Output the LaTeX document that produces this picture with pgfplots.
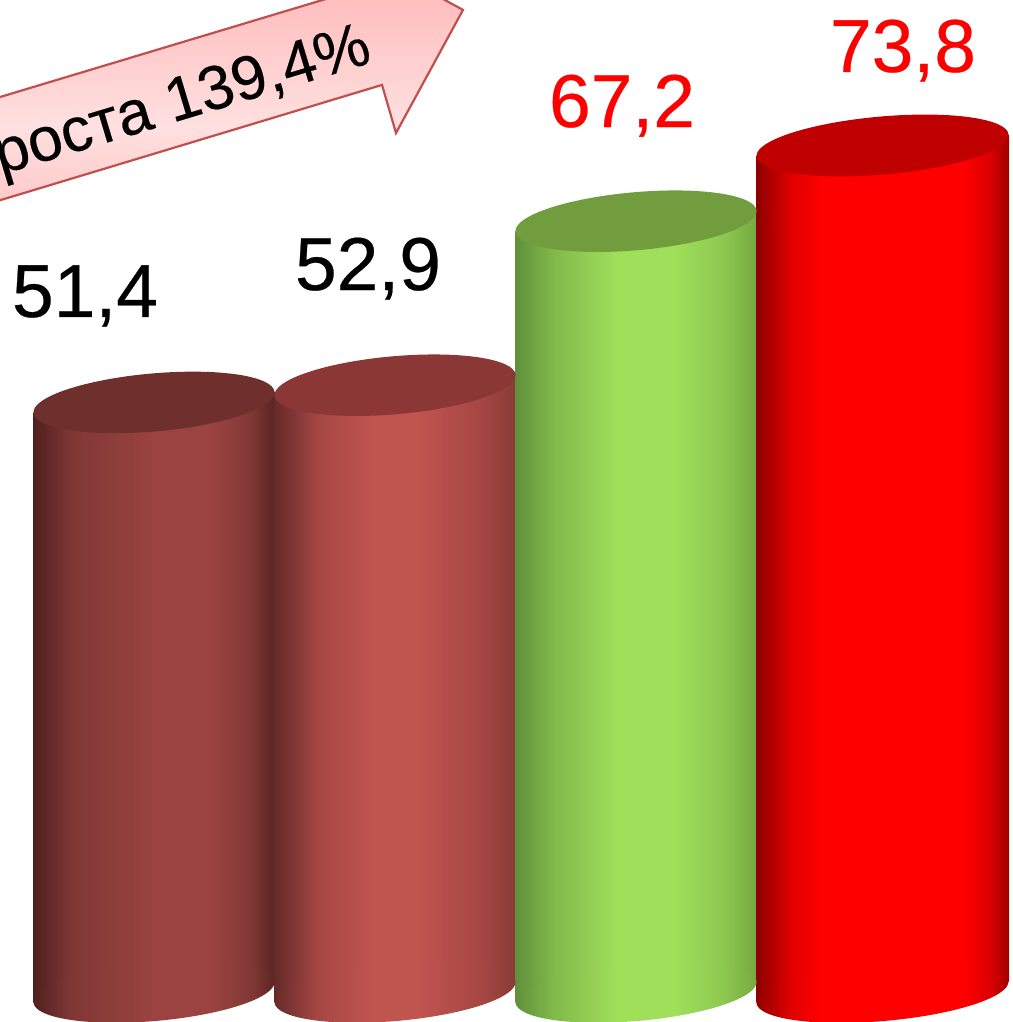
\documentclass[border=0pt]{standalone}
\usepackage{pgfplots}
\pgfplotsset{compat=1.18}
\usepackage{fontspec}
\setmainfont{Liberation Sans}
\newfontfamily\lab[FakeBold=0.35]{Liberation Sans}
\usetikzlibrary{shapes.geometric}
\definecolor{topA}{HTML}{6F2F2C}
\definecolor{topB}{HTML}{8A3736}
\definecolor{topC}{HTML}{719D3E}
\definecolor{topD}{HTML}{C00000}
\definecolor{arrowline}{HTML}{C0504D}
\definecolor{valred}{HTML}{FF0000}
\definecolor{a1}{HTML}{4F1F1E}\definecolor{a2}{HTML}{803835}\definecolor{a3}{HTML}{9A4340}\definecolor{a4}{HTML}{5A2422}
\definecolor{b1}{HTML}{642A28}\definecolor{b2}{HTML}{A54643}\definecolor{b3}{HTML}{C0544F}\definecolor{b4}{HTML}{873A37}
\definecolor{c1}{HTML}{5F8F3A}\definecolor{c2}{HTML}{82B94B}\definecolor{c3}{HTML}{9FDF5A}\definecolor{c4}{HTML}{8CC850}\definecolor{c5}{HTML}{76A93F}
\definecolor{d1}{HTML}{8C0000}\definecolor{d2}{HTML}{E10000}\definecolor{d3}{HTML}{FF0000}\definecolor{d4}{HTML}{DC0000}\definecolor{d5}{HTML}{A00000}
\definecolor{p1}{HTML}{FFC8C8}\definecolor{p2}{HTML}{FFE0E0}\definecolor{p3}{HTML}{FFBFBF}
\pgfdeclarehorizontalshading{barA}{100bp}{
 color(0bp)=(a1); color(25bp)=(a1); color(33bp)=(a2); color(50bp)=(a3); color(62bp)=(a3); color(70bp)=(a2); color(75bp)=(a4); color(100bp)=(a4)}
\pgfdeclarehorizontalshading{barB}{100bp}{
 color(0bp)=(b1); color(25bp)=(b1); color(34bp)=(b2); color(45bp)=(b3); color(55bp)=(b3); color(68bp)=(b2); color(75bp)=(b4); color(100bp)=(b4)}
\pgfdeclarehorizontalshading{barC}{100bp}{
 color(0bp)=(c1); color(25bp)=(c1); color(33bp)=(c2); color(46bp)=(c3); color(58bp)=(c3); color(68bp)=(c4); color(75bp)=(c5); color(100bp)=(c5)}
\pgfdeclarehorizontalshading{barD}{100bp}{
 color(0bp)=(d1); color(25bp)=(d1); color(32bp)=(d2); color(38bp)=(d3); color(66bp)=(d3); color(71bp)=(d4); color(75bp)=(d5); color(100bp)=(d5)}
\pgfdeclareverticalshading{arrowfill}{100bp}{
 color(0bp)=(p1); color(25bp)=(p1); color(40bp)=(p2); color(64bp)=(p3); color(100bp)=(p3)}
\pgfplotsset{
 cyl/.style n args={3}{only marks, mark=none, nodes near coords={},
  every node near coord/.append style={anchor=center, shape=ellipse, inner sep=0pt, outer sep=0pt,
   minimum width=#1pt, minimum height=58pt, rotate=5, draw=none, #2, #3}},
}
\begin{document}
\begin{tikzpicture}
\path[use as bounding box, clip] (0,0) rectangle (1012pt,1022pt);
\begin{axis}[
 at={(0,0)}, anchor=south west, scale only axis,
 hide axis, x=1pt, y=11.47pt,
 xmin=0, xmax=1012, ymin=-2.616, ymax=86.49,
 clip=true,
]
% bar 1: 51.4
\addplot[cyl={242}{shading=barA}{shading angle=0}] coordinates {(154,0)};
\addplot[draw=none, shading=barA, shading angle=0] coordinates {(33,-0.9)(33,50.5)(275,52.3)(275,0.9)} --cycle;
\addplot[cyl={242}{fill=topA}{}] coordinates {(154,51.4)};
% bar 2: 52.9
\addplot[cyl={242}{shading=barB}{shading angle=0}] coordinates {(395,0)};
\addplot[draw=none, shading=barB, shading angle=0] coordinates {(274,-0.9)(274,52.0)(516,53.8)(516,0.9)} --cycle;
\addplot[cyl={242}{fill=topB}{}] coordinates {(395,52.9)};
% bar 3: 67.2
\addplot[cyl={242}{shading=barC}{shading angle=0}] coordinates {(636,0)};
\addplot[draw=none, shading=barC, shading angle=0] coordinates {(515,-0.9)(515,66.3)(757,68.1)(757,0.9)} --cycle;
\addplot[cyl={242}{fill=topC}{}] coordinates {(636,67.2)};
% bar 4: 73.8
\addplot[cyl={253}{shading=barD}{shading angle=0}] coordinates {(882.5,0)};
\addplot[draw=none, shading=barD, shading angle=0] coordinates {(756,-0.9)(756,72.9)(1009,74.7)(1009,0.9)} --cycle;
\addplot[cyl={253}{fill=topD}{}] coordinates {(882.5,73.8)};
% arrow
\addplot[draw=arrowline, line width=2.2pt, shading=arrowfill, line join=miter] coordinates {
 (-20,77.5)(354,87.31)(340,91.49)(463,85.62)(396,74.89)(382,79.08)(-20,68.5)} --cycle;
\node[anchor=base east, rotate=16.8, font=\lab\fontsize{62}{62}\selectfont, inner sep=0pt] at (axis cs:374,81.08) {роста 139,4\%};
% labels
\node[anchor=base, font=\lab\fontsize{75}{75}\selectfont, inner sep=0pt] at (axis cs:85,58.85) {51,4};
\node[anchor=base, font=\lab\fontsize{75}{75}\selectfont, inner sep=0pt] at (axis cs:368,61.2) {52,9};
\node[anchor=base, font=\lab\fontsize{75}{75}\selectfont, inner sep=0pt, text=valred] at (axis cs:622,75.41) {67,2};
\node[anchor=base, font=\lab\fontsize{75}{75}\selectfont, inner sep=0pt, text=valred] at (axis cs:903,80.21) {73,8};
\end{axis}
\end{tikzpicture}
\end{document}
